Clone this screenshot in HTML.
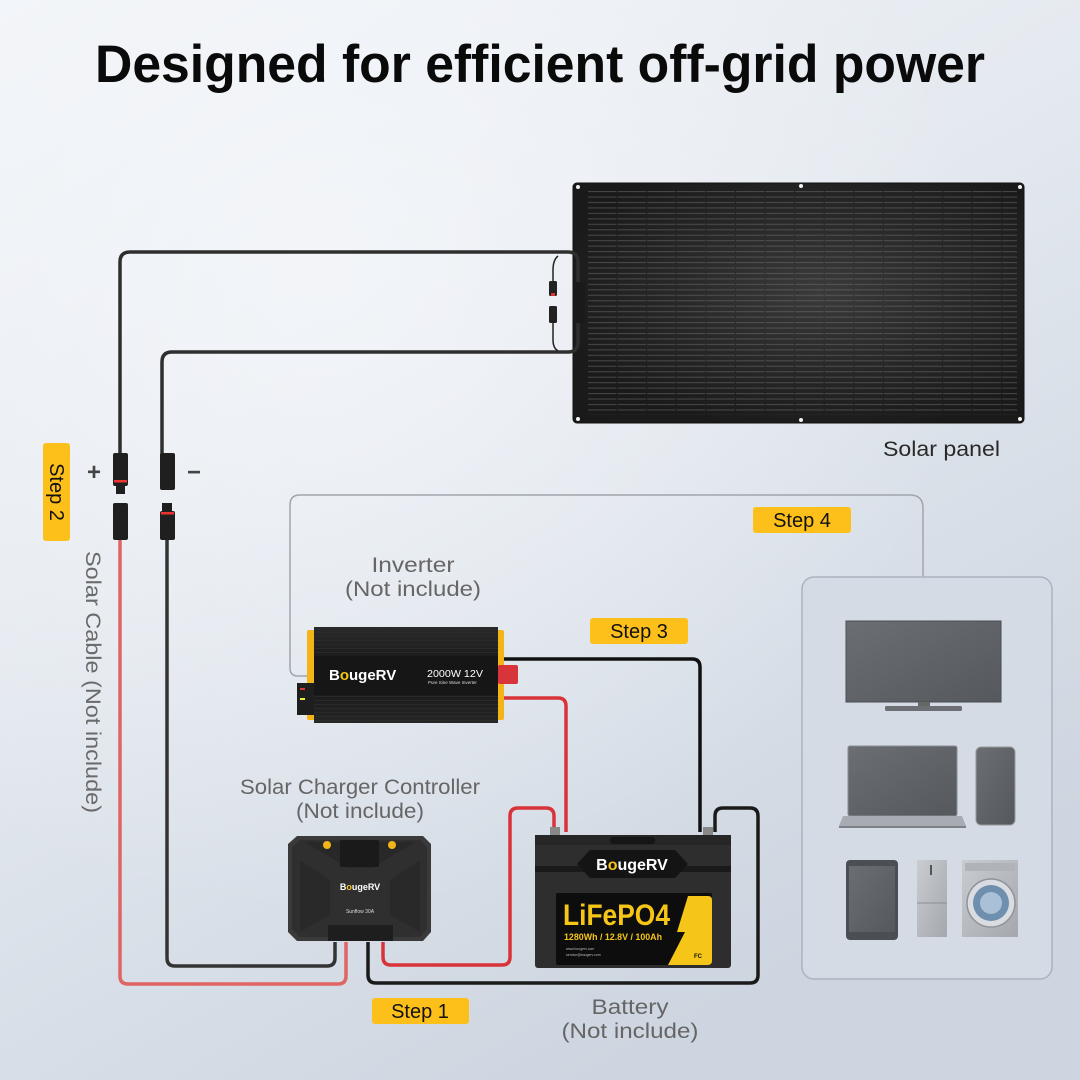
<!DOCTYPE html>
<html><head><meta charset="utf-8"><style>
html,body{margin:0;padding:0;width:1080px;height:1080px;overflow:hidden;background:#e6ebf1}
svg{display:block}
text{font-family:"Liberation Sans",sans-serif}
</style></head><body>
<svg width="1080" height="1080" viewBox="0 0 1080 1080" xmlns="http://www.w3.org/2000/svg">
<defs>
<linearGradient id="bg" x1="0" y1="0" x2="0.55" y2="1">
<stop offset="0" stop-color="#f1f4f8"/>
<stop offset="0.45" stop-color="#e5eaf0"/>
<stop offset="1" stop-color="#cdd5e0"/>
</linearGradient>
<radialGradient id="bg2" cx="0.3" cy="0.25" r="0.6">
<stop offset="0" stop-color="#f6f8fb" stop-opacity="0.7"/>
<stop offset="1" stop-color="#f6f8fb" stop-opacity="0"/>
</radialGradient>
<radialGradient id="pan" cx="0.55" cy="0.45" r="0.6">
<stop offset="0" stop-color="#3a3a3a"/>
<stop offset="0.6" stop-color="#262626"/>
<stop offset="1" stop-color="#1a1a1a"/>
</radialGradient>
<pattern id="cells" x="588" y="191" width="29.6" height="5.46" patternUnits="userSpaceOnUse">
<rect x="0" y="0" width="28.4" height="1.1" fill="#777"/>
</pattern>
<pattern id="ridge" x="0" y="0" width="4" height="4" patternUnits="userSpaceOnUse">
<rect width="4" height="1" fill="#2c2c2c"/>
</pattern>
<linearGradient id="inv" x1="0" y1="0" x2="0" y2="1">
<stop offset="0" stop-color="#2a2a2a"/>
<stop offset="0.5" stop-color="#151515"/>
<stop offset="1" stop-color="#262626"/>
</linearGradient>
<linearGradient id="silver" x1="0" y1="0" x2="1" y2="1">
<stop offset="0" stop-color="#c9ccd0"/>
<stop offset="1" stop-color="#a4a8ae"/>
</linearGradient>
<linearGradient id="screen" x1="0" y1="0" x2="1" y2="1">
<stop offset="0" stop-color="#6b6e73"/>
<stop offset="1" stop-color="#55585d"/>
</linearGradient>
</defs>

<rect width="1080" height="1080" fill="url(#bg)"/>
<rect width="1080" height="1080" fill="url(#bg2)"/>

<!-- Title -->
<text x="540" y="82" text-anchor="middle" font-size="53" font-weight="bold" fill="#0a0a0a" textLength="890" lengthAdjust="spacingAndGlyphs">Designed for efficient off-grid power</text>

<!-- Solar panel -->
<rect x="573" y="183" width="451" height="240" rx="4" fill="url(#pan)" stroke="#111" stroke-width="1"/>
<rect x="588" y="191" width="429" height="224" fill="url(#cells)" opacity="0.45"/>
<g fill="#f2f2f2">
<circle cx="578" cy="187" r="2"/><circle cx="801" cy="186" r="2"/><circle cx="1020" cy="187" r="2"/>
<circle cx="578" cy="419" r="2"/><circle cx="801" cy="420" r="2"/><circle cx="1020" cy="419" r="2"/>
</g>
<text x="883" y="456" font-size="21" fill="#2a2a2a" textLength="117" lengthAdjust="spacingAndGlyphs">Solar panel</text>

<!-- Panel cables -->
<path d="M120,455 V262 Q120,252 130,252 H568 Q578,252 578,262 V342 Q578,352 568,352 H172 Q162,352 162,362 V455" fill="none" stroke="#2e2e2e" stroke-width="3.5"/>
<path d="M558,256 Q553,260 553,270 V282 M553,322 V340 Q553,348 558,351" fill="none" stroke="#222" stroke-width="1.5"/>
<rect x="549" y="281" width="8" height="15" rx="1.5" fill="#222"/>
<rect x="551" y="293" width="4" height="3" fill="#d33"/>
<rect x="549" y="306" width="8" height="17" rx="1.5" fill="#222"/>
<rect x="574" y="282" width="11" height="41" rx="2" fill="#1a1a1a"/>

<!-- MC4 connectors -->
<g fill="#1f1f1f">
<rect x="113" y="453" width="15" height="33" rx="2"/>
<rect x="116" y="486" width="9" height="8"/>
<rect x="113" y="503" width="15" height="37" rx="2"/>
<rect x="160" y="453" width="15" height="37" rx="2"/>
<rect x="162" y="503" width="10" height="10"/>
<rect x="160" y="511" width="15" height="29" rx="2"/>
</g>
<rect x="114" y="480" width="13" height="2.5" fill="#e33"/>
<rect x="161" y="512" width="13" height="2.5" fill="#e33"/>
<text x="94" y="480" font-size="24" fill="#444" text-anchor="middle" font-weight="bold">+</text>
<text x="194" y="480" font-size="24" fill="#444" text-anchor="middle" font-weight="bold">−</text>

<!-- Step 2 -->
<rect x="43" y="443" width="27" height="98" rx="3" fill="#fdbf1a"/>
<text transform="translate(50,492) rotate(90)" font-size="20" fill="#111" text-anchor="middle">Step 2</text>
<text transform="translate(86,682) rotate(90)" font-size="21" fill="#6a6a6a" text-anchor="middle" textLength="262" lengthAdjust="spacingAndGlyphs">Solar Cable (Not include)</text>

<!-- Lower wires from solar cables to controller -->
<path d="M120,540 V976 Q120,984 128,984 H338 Q346,984 346,976 V942" fill="none" stroke="#e06464" stroke-width="3.5"/>
<path d="M167,540 V958 Q167,966 175,966 H327 Q335,966 335,958 V942" fill="none" stroke="#333" stroke-width="3.5"/>

<!-- Controller to battery -->
<path d="M383,942 V957 Q383,965 391,965 H502 Q510,965 510,957 V816 Q510,808 518,808 H546 Q554,808 554,816 V832" fill="none" stroke="#d9333a" stroke-width="3.5"/>
<path d="M368,942 V975 Q368,983 376,983 H750 Q758,983 758,975 V816 Q758,808 750,808 H723 Q715,808 715,816 V832" fill="none" stroke="#1a1a1a" stroke-width="3.5"/>

<!-- Inverter to battery -->
<path d="M503,659 H692 Q700,659 700,667 V832" fill="none" stroke="#111" stroke-width="3.5"/>
<path d="M503,698 H558 Q566,698 566,706 V832" fill="none" stroke="#d9333a" stroke-width="3.5"/>

<!-- Step 4 frame -->
<path d="M308,676 H298 Q290,676 290,668 V505 Q290,495 300,495 H910 Q923,495 923,508 V577" fill="none" stroke="#a0a5ab" stroke-width="1.5"/>

<!-- Appliance box -->
<rect x="802" y="577" width="250" height="402" rx="12" fill="#d4dbe5" stroke="#aab3bf" stroke-width="1.5"/>
<!-- TV -->
<rect x="846" y="621" width="155" height="81" fill="url(#screen)" stroke="#4a4d52" stroke-width="1"/>
<rect x="918" y="702" width="12" height="5" fill="#666"/>
<rect x="885" y="706" width="77" height="5" rx="1.5" fill="#6c6f74"/>
<!-- Laptop -->
<rect x="848" y="746" width="109" height="70" rx="2" fill="url(#screen)" stroke="#8a8d92" stroke-width="1"/>
<path d="M843,816 H962 L966,826 H839 Z" fill="#a8acb2"/>
<rect x="839" y="826" width="127" height="2" fill="#7d8086"/>
<!-- Phone -->
<rect x="976" y="747" width="39" height="78" rx="5" fill="url(#screen)" stroke="#999" stroke-width="1"/>
<!-- Tablet -->
<rect x="846" y="860" width="52" height="80" rx="4" fill="#4b4e53"/>
<rect x="849" y="866" width="46" height="66" fill="url(#screen)"/>
<!-- Fridge -->
<rect x="917" y="860" width="30" height="77" fill="url(#silver)"/>
<line x1="917" y1="903" x2="947" y2="903" stroke="#8c9096" stroke-width="1"/>
<rect x="930" y="865" width="2" height="10" fill="#555"/>
<!-- Washer -->
<rect x="962" y="860" width="56" height="77" fill="url(#silver)"/>
<rect x="965" y="863" width="50" height="8" fill="#b0b4ba"/>
<circle cx="991" cy="903" r="24" fill="#d9dce0" stroke="#8f9399" stroke-width="1.5"/>
<circle cx="991" cy="903" r="18" fill="#6f8fae"/>
<circle cx="991" cy="903" r="11" fill="#a9c0d6"/>

<!-- Inverter -->
<rect x="307" y="630" width="9" height="90" rx="2" fill="#f2b417"/>
<rect x="496" y="630" width="8" height="90" rx="2" fill="#f2b417"/>
<rect x="297" y="683" width="17" height="32" fill="#1e1e1e"/>
<rect x="300" y="688" width="5" height="2" fill="#d33"/>
<rect x="300" y="698" width="5" height="2" fill="#ee3"/>
<rect x="314" y="627" width="184" height="96" fill="url(#inv)"/>
<rect x="314" y="630" width="184" height="26" fill="url(#ridge)" opacity="0.8"/>
<rect x="314" y="696" width="184" height="25" fill="url(#ridge)" opacity="0.8"/>
<rect x="314" y="656" width="184" height="39" fill="#161616"/>
<rect x="498" y="665" width="20" height="19" rx="2" fill="#d8353b"/>
<text x="329" y="680" font-size="15" font-weight="bold" fill="#fff" font-family="Liberation Serif,serif">B<tspan fill="#f5c518">o</tspan>ugeRV</text>
<text x="427" y="677" font-size="10" fill="#fff" textLength="56" lengthAdjust="spacingAndGlyphs">2000W 12V</text>
<text x="428" y="684" font-size="4.5" fill="#ddd">Pure Sine Wave Inverter</text>
<text x="413" y="572" font-size="21" fill="#666" text-anchor="middle" textLength="83" lengthAdjust="spacingAndGlyphs">Inverter</text>
<text x="413" y="596" font-size="21" fill="#666" text-anchor="middle" textLength="136" lengthAdjust="spacingAndGlyphs">(Not include)</text>

<!-- Step 3 -->
<rect x="590" y="618" width="98" height="26" rx="3" fill="#fdbf1a"/>
<text x="639" y="638" font-size="20" fill="#111" text-anchor="middle">Step 3</text>
<!-- Step 4 -->
<rect x="753" y="507" width="98" height="26" rx="3" fill="#fdbf1a"/>
<text x="802" y="527" font-size="20" fill="#111" text-anchor="middle">Step 4</text>

<!-- Controller -->
<text x="360" y="794" font-size="21" fill="#666" text-anchor="middle" textLength="240" lengthAdjust="spacingAndGlyphs">Solar Charger Controller</text>
<text x="360" y="818" font-size="21" fill="#666" text-anchor="middle" textLength="128" lengthAdjust="spacingAndGlyphs">(Not include)</text>
<path d="M297,836 H423 L431,844 V932 L423,941 H297 L288,932 V844 Z" fill="#3a3a3a"/>
<path d="M300,840 H420 L427,847 V929 L420,937 H300 L292,929 V847 Z" fill="#2f2f2f"/>
<path d="M305,842 H415 L372,868 H348 Z" fill="#282828"/>
<path d="M300,860 L330,880 V915 L300,932 Z" fill="#292929"/>
<path d="M420,860 L390,880 V915 L420,932 Z" fill="#292929"/>
<rect x="340" y="840" width="39" height="27" rx="2" fill="#1a1a1a"/>
<circle cx="327" cy="845" r="4" fill="#f2b417"/>
<circle cx="392" cy="845" r="4" fill="#f2b417"/>
<rect x="328" y="925" width="65" height="16" fill="#1e1e1e"/>
<text x="360" y="890" font-size="9" font-weight="bold" fill="#fff" text-anchor="middle">B<tspan fill="#f5c518">o</tspan>ugeRV</text>
<text x="360" y="913" font-size="5" fill="#ddd" text-anchor="middle">Sunflow 30A</text>

<!-- Step 1 -->
<rect x="372" y="998" width="97" height="26" rx="3" fill="#fdbf1a"/>
<text x="420" y="1018" font-size="20" fill="#111" text-anchor="middle">Step 1</text>

<!-- Battery -->
<rect x="550" y="827" width="10" height="9" fill="#888"/>
<rect x="703" y="827" width="10" height="9" fill="#888"/>
<rect x="535" y="835" width="196" height="133" rx="3" fill="#2e2e2e"/>
<rect x="535" y="835" width="196" height="10" fill="#262626"/>
<rect x="610" y="837" width="45" height="7" rx="3" fill="#161616"/>
<rect x="535" y="866" width="196" height="6" fill="#1a1a1a"/>
<path d="M590,850 H675 L688,864 L675,878 H590 L577,864 Z" fill="#141414"/>
<text x="632" y="870" font-size="16" font-weight="bold" fill="#fff" text-anchor="middle">B<tspan fill="#f5c518">o</tspan>ugeRV</text>
<rect x="556" y="893" width="156" height="72" rx="2" fill="#0d0d0d"/>
<path d="M688,896 H708 Q712,896 712,900 V961 Q712,965 708,965 H668 L685,932 L677,932 Z" fill="#f5c518"/>
<text x="563" y="925" font-size="30" font-weight="bold" fill="#f5c518" textLength="107" lengthAdjust="spacingAndGlyphs">LiFePO4</text>
<text x="564" y="940" font-size="9" font-weight="bold" fill="#f5c518" textLength="98" lengthAdjust="spacingAndGlyphs">1280Wh / 12.8V / 100Ah</text>
<text x="566" y="950" font-size="3.5" fill="#bbb">www.bougerv.com</text>
<text x="566" y="956" font-size="3.5" fill="#bbb">service@bougerv.com</text>
<text x="694" y="958" font-size="6" font-weight="bold" fill="#111">FC</text>
<text x="630" y="1014" font-size="21" fill="#666" text-anchor="middle" textLength="77" lengthAdjust="spacingAndGlyphs">Battery</text>
<text x="630" y="1038" font-size="21" fill="#666" text-anchor="middle" textLength="137" lengthAdjust="spacingAndGlyphs">(Not include)</text>
</svg>
</body></html>
